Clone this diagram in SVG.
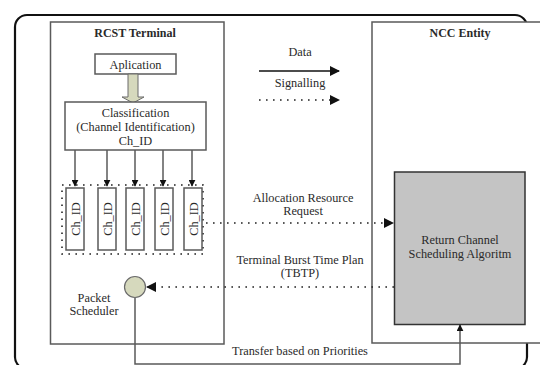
<svg xmlns="http://www.w3.org/2000/svg" width="540" height="365" viewBox="0 0 540 365">
  <style>
    text { font-family: "Liberation Serif", "DejaVu Serif", serif; font-size: 12.3px; fill: #2a2a2a; text-anchor: middle; }
    .title { font-weight: bold; font-size: 12px; }
    .box { fill: #ffffff; stroke: #5a5a5a; stroke-width: 1.5; }
    .line { fill: none; stroke: #5a5a5a; stroke-width: 1.5; }
    .solid { fill: none; stroke: #111; stroke-width: 1.5; }
    .dots { fill: none; stroke: #222; stroke-width: 1.6; stroke-dasharray: 1.6 5.4; }
  </style>
  <defs>
    <marker id="head" viewBox="0 0 10 10" refX="9" refY="5" markerWidth="7" markerHeight="7" markerUnits="userSpaceOnUse" orient="auto">
      <path d="M0,0 L10,5 L0,10 z" fill="#111"/>
    </marker>
    <marker id="headBig" viewBox="0 0 10 10" refX="9" refY="5" markerWidth="10" markerHeight="10" markerUnits="userSpaceOnUse" orient="auto">
      <path d="M0,0 L10,5 L0,10 z" fill="#111"/>
    </marker>
  </defs>

  <rect x="0" y="0" width="540" height="365" fill="#ffffff"/>

  <!-- outer frame -->
  <rect x="15" y="15" width="512" height="354" rx="12" fill="none" stroke="#111" stroke-width="2.2"/>

  <!-- RCST terminal -->
  <g id="rcst">
    <rect class="box" x="50.5" y="22" width="173.5" height="322"/>
    <text class="title" x="135" y="37">RCST Terminal</text>
  </g>

  <!-- NCC entity -->
  <g id="ncc">
    <rect class="box" x="372" y="22" width="180" height="321"/>
    <text class="title" x="460" y="37">NCC Entity</text>
  </g>

  <g id="application">
    <rect class="box" x="95" y="54" width="81" height="20"/>
    <text x="135.5" y="68.5">Aplication</text>
  </g>

  <g id="block-arrow">
    <path d="M128,74 L138,74 L138,97 L144,97 L133,103 L122,97 L128,97 z" fill="#d6d9bd" stroke="#6a6a6a" stroke-width="1"/>
  </g>

  <g id="classification">
    <rect class="box" x="65" y="102" width="141" height="48"/>
    <text x="135.5" y="116.5">Classification</text>
    <text x="135.5" y="130.5">(Channel Identification)</text>
    <text x="135.5" y="144.5">Ch_ID</text>
  </g>

  <!-- queue area -->
  <g id="queues">
    <rect x="62" y="185" width="141" height="69" class="dots"/>
    <g>
      <rect class="box" x="66" y="188" width="18" height="62"/>
      <text transform="translate(79.5,219) rotate(-90)">Ch_ID</text>
    </g>
    <g>
      <rect class="box" x="98" y="188" width="18" height="62"/>
      <text transform="translate(111.5,219) rotate(-90)">Ch_ID</text>
    </g>
    <g>
      <rect class="box" x="126" y="188" width="18" height="62"/>
      <text transform="translate(139.5,219) rotate(-90)">Ch_ID</text>
    </g>
    <g>
      <rect class="box" x="155" y="188" width="18" height="62"/>
      <text transform="translate(168.5,219) rotate(-90)">Ch_ID</text>
    </g>
    <g>
      <rect class="box" x="184" y="188" width="18" height="62"/>
      <text transform="translate(197.5,219) rotate(-90)">Ch_ID</text>
    </g>
  </g>

  <g id="scheduling">
    <rect x="394.5" y="172" width="130.5" height="152.5" fill="#c4c4c4" stroke="#333" stroke-width="1.5"/>
    <text x="460" y="244">Return Channel</text>
    <text x="460" y="258">Scheduling Algoritm</text>
  </g>

  <g id="packet-scheduler">
    <circle cx="135" cy="287" r="10.5" fill="#d6d9bd" stroke="#6a6a6a" stroke-width="1.2"/>
    <text x="94" y="302">Packet</text>
    <text x="94" y="315">Scheduler</text>
  </g>

  <!-- legend -->
  <g id="legend">
    <text x="300" y="56">Data</text>
    <line class="solid" x1="259" y1="71" x2="339" y2="71" marker-end="url(#headBig)"/>
    <text x="300" y="87">Signalling</text>
    <line class="dots" x1="259" y1="100" x2="339" y2="100" marker-end="url(#headBig)"/>
  </g>

  <!-- connectors -->
  <g id="connectors">
    <line class="line" x1="75" y1="150" x2="75" y2="186" marker-end="url(#head)"/>
    <line class="line" x1="107" y1="150" x2="107" y2="186" marker-end="url(#head)"/>
    <line class="line" x1="135" y1="150" x2="135" y2="186" marker-end="url(#head)"/>
    <line class="line" x1="163" y1="150" x2="163" y2="186" marker-end="url(#head)"/>
    <line class="line" x1="192" y1="150" x2="192" y2="186" marker-end="url(#head)"/>

    <line class="dots" x1="206" y1="223" x2="393" y2="223" marker-end="url(#headBig)"/>
    <text x="303" y="202">Allocation Resource</text>
    <text x="303" y="215">Request</text>

    <line class="dots" x1="394" y1="287" x2="147" y2="287" marker-end="url(#headBig)"/>
    <text x="300" y="264">Terminal Burst Time Plan</text>
    <text x="300" y="277">(TBTP)</text>

    <polyline class="line" points="135,298 135,364 460,364 460,325" marker-end="url(#head)"/>
    <text x="300" y="355">Transfer based on Priorities</text>
  </g>
</svg>
